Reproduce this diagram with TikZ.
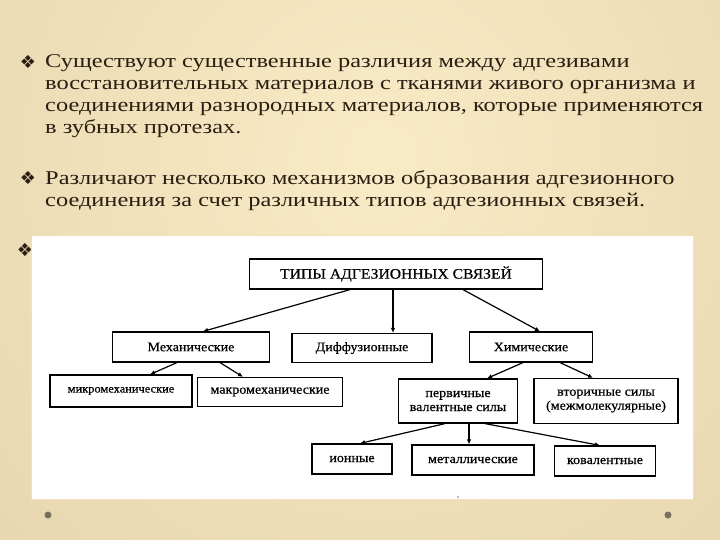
\documentclass[tikz,border=0pt]{standalone}
\usepackage{fontspec}
\setmainfont{Liberation Serif}
\newfontfamily\slidefont{Liberation Serif}[FakeStretch=1.25]
\newfontfamily\diagfont{Liberation Serif}[FakeStretch=1.08,FakeBold=0.6]
\newfontfamily\bulletfont{DejaVu Sans}
\usetikzlibrary{arrows.meta}
\definecolor{bglight}{HTML}{F9EBC6}
\definecolor{bgdark}{HTML}{DCC9A0}
\definecolor{textbrown}{HTML}{2B1D12}
\definecolor{dotgray}{HTML}{77715F}
\tikzset{
    box/.style={draw=black, line width=1.2pt, fill=white, inner sep=2pt,
        font=\diagfont\fontsize{13}{14}\selectfont},
    link/.style={-{Latex[length=5pt,width=4.5pt]}, line width=1.2pt},
    bullet/.style={inner sep=0pt, text=textbrown, font=\bulletfont\fontsize{18}{18}\selectfont},
    para/.style={anchor=north west, align=left, inner sep=0pt, text=textbrown,
        font=\slidefont\fontsize{19.5}{22}\selectfont}
}

\begin{document}
\begin{tikzpicture}[x=1pt,y=-1pt]
        \useasboundingbox (0,0) rectangle (720,540);
        % background
        \begin{scope}
            \clip (0,0) rectangle (720,540);
            \fill[bgdark] (0,0) rectangle (720,540);
            \shade[inner color=bglight, outer color=bgdark] (380,160) circle (900);
        \end{scope}
        % text
        \node[bullet] (b1) at (28,62) {❖};
        \node[bullet] (b2) at (28,178) {❖};
        \node[bullet] (b3) at (25,250) {❖};
        \node[para] (p1) at (45,54) {Существуют существенные различия между адгезивами\\
            восстановительных материалов с тканями живого организма и\\
            соединениями разнородных материалов, которые применяются\\
            в зубных протезах.};
        \node[para] (p2) at (45,170) {Различают несколько механизмов образования адгезионного\\
            соединения за счет различных типов адгезионных связей.};
        % panel
        \fill[white] (31,235) rectangle (693,499);
        \draw[bglight!70!bgdark, line width=0.8pt] (31,235) rectangle (693,499);
        \fill[dotgray] (48,515) circle (3.5);
        \fill[dotgray] (668,515) circle (3.5);
        \fill[gray] (458,497) circle (0.8);
        % boxes
        \node[box, minimum width=293pt, minimum height=30pt, font=\diagfont\fontsize{14.5}{16}\selectfont] (types) at (396,274) {ТИПЫ АДГЕЗИОННЫХ СВЯЗЕЙ};
        \node[box, minimum width=157pt, minimum height=30pt] (mech) at (191,347) {Механические};
        \node[box, minimum width=140pt, minimum height=29pt] (diff) at (362,348) {Диффузионные};
        \node[box, minimum width=123pt, minimum height=30pt] (chem) at (531,347) {Химические};
        \node[box, minimum width=142pt, minimum height=32pt, font=\diagfont\fontsize{11.5}{13}\selectfont] (micro) at (121,391) {микромеханические};
        \node[box, minimum width=145pt, minimum height=29pt] (macro) at (270,392) {макромеханические};
        \node[box, align=center, minimum width=119pt, minimum height=44pt] (prim) at (458,401) {первичные\\валентные силы};
        \node[box, align=center, minimum width=144pt, minimum height=45pt] (sec) at (606,401) {вторичные силы\\(межмолекулярные)};
        \node[box, minimum width=80pt, minimum height=30pt] (ion) at (352,459) {ионные};
        \node[box, minimum width=122pt, minimum height=30pt] (met) at (473,460) {металлические};
        \node[box, minimum width=101pt, minimum height=30pt] (cov) at (605,461) {ковалентные};
        % links
        \draw[link] ([xshift=-46pt]types.south) -- ([xshift=12pt]mech.north);
        \draw[link] ([xshift=-3pt]types.south) -- ([xshift=-3pt]types.south |- diff.north);
        \draw[link] ([xshift=67pt]types.south) -- ([xshift=9pt]chem.north);
        \draw[link] ([xshift=-14pt]mech.south) -- ([xshift=29pt]micro.north);
        \draw[link] ([xshift=29pt]mech.south) -- ([xshift=-27pt]macro.north);
        \draw[link] ([xshift=-8pt]chem.south) -- ([xshift=29pt]prim.north);
        \draw[link] ([xshift=29pt]chem.south) -- ([xshift=-13pt]sec.north);
        \draw[link] ([xshift=-13pt]prim.south) -- ([xshift=8pt]ion.north);
        \draw[link] ([xshift=11pt]prim.south) -- ([xshift=11pt]prim.south |- met.north);
        \draw[link] ([xshift=27pt]prim.south) -- ([xshift=-5pt]cov.north);
    \end{tikzpicture}
\end{document}
